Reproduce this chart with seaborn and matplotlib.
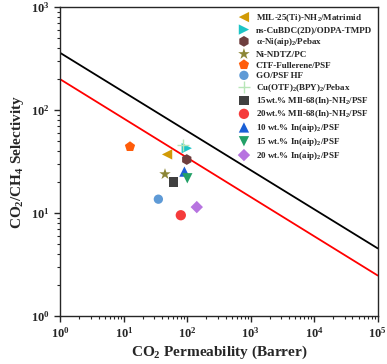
import numpy as np
import pandas as pd
import matplotlib
matplotlib.use("Agg")
import matplotlib.pyplot as plt
import seaborn as sns

# data
labels = [
    r"MIL-25(Ti)-NH$_2$/Matrimid",
    "ns-CuBDC(2D)/ODPA-TMPD",
    r"α-Ni(aip)$_2$/Pebax",
    "Ni-NDTZ/PC",
    "CTF-Fullerene/PSF",
    "GO/PSF HF",
    r"Cu(OTF)$_2$(BPY)$_2$/Pebax",
    r"15wt.% MIl-68(In)-NH$_2$/PSF",
    r"20wt.% MIl-68(In)-NH$_2$/PSF",
    r"10 wt.% In(aip)$_2$/PSF",
    r"15 wt.% In(aip)$_2$/PSF",
    r"20 wt.% In(aip)$_2$/PSF",
]
permeability = [48, 98, 98, 44.5, 12.5, 35, 86, 60, 79, 90, 100, 141]
selectivity = [37, 42.5, 33, 23.8, 44, 13.6, 46, 19.9, 9.5, 25.2, 21.7, 11.4]
colors = ["#D19A06", "#1DC4C6", "#6E3E3E", "#8C8636", "#FF5C0A", "#5E9AD6",
          "#B8E6B8", "#404040", "#F53B3B", "#1A5FD6", "#22A067", "#B774E0"]
markers = ["<", ">", "h", "*", "p", "o", "+", "s", "o", "^", "v", "D"]
sizes = [55, 55, 60, 75, 60, 45, 70, 45, 55, 55, 55, 40]

# upper bounds (end points at P = 1 and P = 1e5)
bound_x = [1, 1e5]
robeson_2008 = [357, 4.53]
robeson_1991 = [198, 2.47]

sns.set_style("ticks")
plt.rcParams["font.family"] = ["Liberation Serif", "DejaVu Serif"]
plt.rcParams["font.weight"] = "bold"
plt.rcParams["mathtext.fontset"] = "custom"
plt.rcParams["mathtext.rm"] = "Liberation Serif:bold"
plt.rcParams["mathtext.it"] = "Liberation Serif:bold"
plt.rcParams["mathtext.bf"] = "Liberation Serif:bold"
plt.rcParams["mathtext.default"] = "rm"

fig = plt.figure(figsize=(3.87, 3.64), dpi=100)
ax = fig.add_axes([0.156, 0.132, 0.82, 0.849])

sns.lineplot(x=bound_x, y=robeson_2008, color="black", lw=1.3, ax=ax)
sns.lineplot(x=bound_x, y=robeson_1991, color="#FF0000", lw=1.3, ax=ax)

df = pd.DataFrame({"label": labels, "P": permeability, "S": selectivity})
for i, row in df.iterrows():
    kw = dict(edgecolor="none")
    if markers[i] == "+":
        kw = dict(linewidth=1.0)
    sns.scatterplot(x=[row["P"]], y=[row["S"]], marker=markers[i], color=colors[i],
                    s=sizes[i], label=row["label"], ax=ax, zorder=3, **kw)

ax.set_xscale("log")
ax.set_yscale("log")
ax.set_xlim(1, 1e5)
ax.set_ylim(1, 1e3)
ax.set_xlabel(r"CO$_2$ Permeability (Barrer)", fontsize=11, fontweight="bold", labelpad=2)
ax.set_ylabel(r"CO$_2$/CH$_4$ Selectivity", fontsize=11, fontweight="bold", labelpad=4)
ax.tick_params(axis="both", which="major", labelsize=9, direction="out", length=4, width=1)
ax.tick_params(axis="both", which="minor", direction="out", length=2, width=0.8)
ax.xaxis.set_minor_locator(matplotlib.ticker.LogLocator(base=10, subs=np.arange(2, 10), numticks=20))
ax.yaxis.set_minor_locator(matplotlib.ticker.LogLocator(base=10, subs=np.arange(2, 10), numticks=20))
for sp in ax.spines.values():
    sp.set_linewidth(1.0)

leg = ax.legend(loc="upper left", bbox_to_anchor=(0.55, 0.995), frameon=False,
                fontsize=6.5, labelspacing=0.2, handletextpad=0.7, borderaxespad=0,
                handlelength=1.2, handleheight=0.9)

fig.savefig("out.png", dpi=100)
